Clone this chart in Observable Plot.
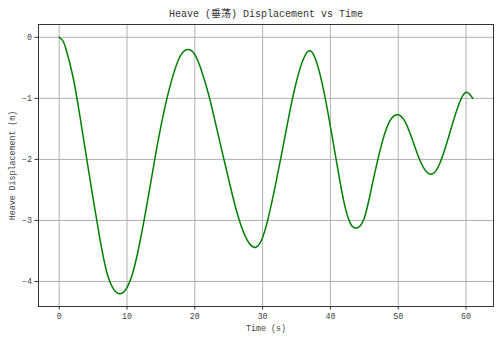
<!DOCTYPE html>
<html>
<head>
<meta charset="utf-8">
<script src="https://cdn.jsdelivr.net/npm/d3@7"></script>
<script src="https://cdn.jsdelivr.net/npm/@observablehq/plot@0.6"></script>
<style>
  html, body { margin: 0; padding: 0; background: #fff; }
  #chart svg { display: block; }
</style>
</head>
<body>
<div id="chart"></div>
<script>
const titleText = "Heave (垂荡) Displacement vs Time";
const xLabel = "Time (s)";
const yLabel = "Heave Displacement (m)";
const xTicks = [0, 10, 20, 30, 40, 50, 60];
const yTicks = [0, -1, -2, -3, -4];

const time = [0,0.5,1,2,3,4,5,6,7,8,9,10,11,12,13,14,15,16,17,18,19,20,21,22,23,24,25,26,27,28,29,30,31,32,33,34,35,36,37,38,39,40,41,42,43,44,45,46,47,48,49,50,51,52,53,54,55,56,57,58,59,60,61];
const heave = [0,-0.05,-0.19,-0.63,-1.25,-1.95,-2.64,-3.3,-3.84,-4.12,-4.20,-4.1,-3.8,-3.3,-2.7,-2.06,-1.46,-0.95,-0.55,-0.28,-0.20,-0.28,-0.55,-0.92,-1.38,-1.86,-2.33,-2.78,-3.14,-3.37,-3.44,-3.28,-2.88,-2.36,-1.8,-1.22,-0.72,-0.36,-0.22,-0.42,-0.87,-1.46,-2.1,-2.7,-3.06,-3.12,-2.96,-2.50,-2.00,-1.58,-1.33,-1.27,-1.38,-1.65,-1.96,-2.18,-2.24,-2.10,-1.79,-1.42,-1.08,-0.9,-1.00];

const data = time.map((t, i) => ({t, h: heave[i]}));

const font = "'Liberation Mono','DejaVu Sans Mono','Noto Sans CJK SC',monospace";

const chart = Plot.plot({
  width: 500,
  height: 341,
  marginLeft: 38,
  marginRight: 7,
  marginTop: 24,
  marginBottom: 35,
  style: {fontFamily: font, fontSize: "8.3px", color: "#333", background: "#fff"},
  x: {domain: [-3.05, 64.05], ticks: xTicks, label: null},
  y: {domain: [-4.41, 0.21], ticks: yTicks, label: null},
  marks: [
    Plot.gridX(xTicks, {stroke: "#b0b0b0", strokeOpacity: 1, strokeWidth: 1}),
    Plot.gridY(yTicks, {stroke: "#b0b0b0", strokeOpacity: 1, strokeWidth: 1}),
    Plot.line(data, {x: "t", y: "h", stroke: "green", strokeWidth: 1.5, curve: "natural"}),
    Plot.frame({stroke: "#333", strokeWidth: 1}),
    Plot.axisX({ticks: xTicks, tickSize: 3.5, tickPadding: 3, label: null, tickFormat: d3.format("d"), stroke: "#333", fill: "#444"}),
    Plot.axisY({ticks: yTicks, tickSize: 3.5, tickPadding: 3, label: null, tickFormat: d3.format("d"), stroke: "#333", fill: "#444"}),
    Plot.text([xLabel], {text: d => d, frameAnchor: "bottom", dy: 22, lineAnchor: "middle", textAnchor: "middle", fontSize: 8.3, fill: "#444"}),
    Plot.text([yLabel], {text: d => d, frameAnchor: "left", dx: -26, rotate: -90, lineAnchor: "middle", textAnchor: "middle", fontSize: 8.3, fill: "#444"}),
    Plot.text([titleText], {text: d => d, frameAnchor: "top", dy: -11, lineAnchor: "middle", textAnchor: "middle", fontSize: 10, fill: "#333"})
  ]
});

document.getElementById("chart").appendChild(chart);
</script>
</body>
</html>
